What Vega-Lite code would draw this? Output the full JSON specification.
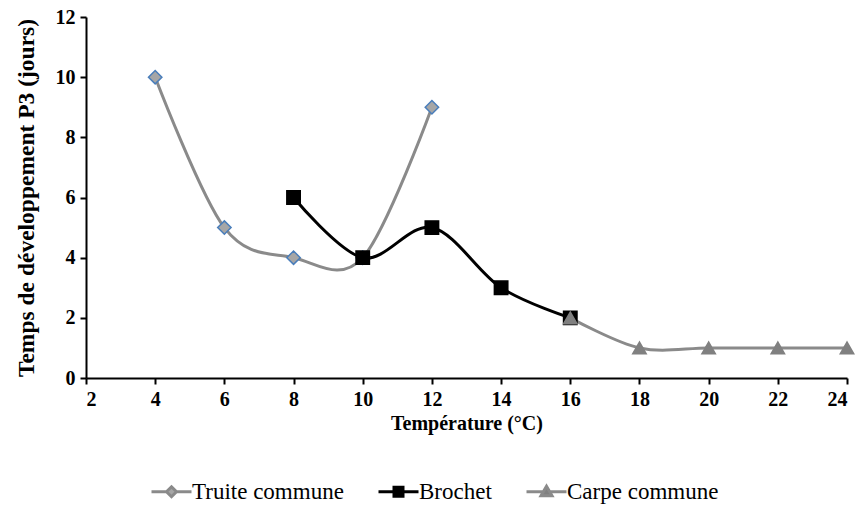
{
  "$schema": "https://vega.github.io/schema/vega-lite/v6.json",
  "width": 761,
  "height": 361,
  "autosize": {"type": "none"},
  "padding": {"left": 86, "top": 17, "right": 14, "bottom": 128},
  "background": "white",
  "config": {
    "view": {"stroke": null},
    "font": "Liberation Serif",
    "axis": {
      "grid": false,
      "domainColor": "#000000",
      "domainWidth": 2,
      "tickColor": "#000000",
      "tickWidth": 2,
      "tickSize": 6,
      "labelFont": "Liberation Serif",
      "labelFontSize": 20,
      "labelFontWeight": "bold",
      "labelColor": "#000000",
      "titleFont": "Liberation Serif",
      "titleFontWeight": "bold",
      "titleColor": "#000000"
    }
  },
  "data": {
    "values": [
      {"series": "Truite commune", "temp": 4, "jours": 10},
      {"series": "Truite commune", "temp": 6, "jours": 5},
      {"series": "Truite commune", "temp": 8, "jours": 4},
      {"series": "Truite commune", "temp": 10, "jours": 4},
      {"series": "Truite commune", "temp": 12, "jours": 9},
      {"series": "Brochet", "temp": 8, "jours": 6},
      {"series": "Brochet", "temp": 10, "jours": 4},
      {"series": "Brochet", "temp": 12, "jours": 5},
      {"series": "Brochet", "temp": 14, "jours": 3},
      {"series": "Brochet", "temp": 16, "jours": 2},
      {"series": "Carpe commune", "temp": 16, "jours": 2},
      {"series": "Carpe commune", "temp": 18, "jours": 1},
      {"series": "Carpe commune", "temp": 20, "jours": 1},
      {"series": "Carpe commune", "temp": 22, "jours": 1},
      {"series": "Carpe commune", "temp": 24, "jours": 1}
    ]
  },
  "encoding": {
    "x": {
      "field": "temp",
      "type": "quantitative",
      "scale": {"domain": [2, 24], "nice": false, "zero": false},
      "axis": {"values": [2, 4, 6, 8, 10, 12, 14, 16, 18, 20, 22, 24], "title": "Température (°C)", "titleFontSize": 20, "titlePadding": 4, "labelPadding": 5}
    },
    "y": {
      "field": "jours",
      "type": "quantitative",
      "scale": {"domain": [0, 12], "nice": false},
      "axis": {"values": [0, 2, 4, 6, 8, 10, 12], "title": "Temps de développement P3 (jours)", "titleFontSize": 23.5, "titlePadding": 17, "labelPadding": 5}
    }
  },
  "resolve": {
    "scale": {"color": "independent", "shape": "independent", "fill": "independent", "stroke": "independent"},
    "legend": {"color": "independent", "shape": "independent", "fill": "independent", "stroke": "independent"}
  },
  "layer": [
    {
      "mark": {"type": "line", "interpolate": "cardinal", "strokeWidth": 3},
      "encoding": {
        "color": {
          "field": "series",
          "type": "nominal",
          "scale": {"domain": ["Truite commune", "Brochet", "Carpe commune"], "range": ["#8a8a8a", "#000000", "#8a8a8a"]},
          "legend": null
        },
        "detail": {"field": "series"}
      }
    },
    {
      "mark": {"type": "point", "filled": true, "strokeWidth": 1.5, "opacity": 1, "size": 180},
      "encoding": {
        "shape": {
          "field": "series",
          "type": "nominal",
          "scale": {"domain": ["Truite commune", "Brochet", "Carpe commune"], "range": ["diamond", "square", "triangle-up"]},
          "legend": null
        },
        "fill": {
          "field": "series",
          "type": "nominal",
          "scale": {"domain": ["Truite commune", "Brochet", "Carpe commune"], "range": ["#a6a6a6", "#000000", "#808080"]},
          "legend": null
        },
        "stroke": {
          "field": "series",
          "type": "nominal",
          "scale": {"domain": ["Truite commune", "Brochet", "Carpe commune"], "range": ["#4a7ebb", "#000000", "#808080"]},
          "legend": null
        }
      }
    },
    {
      "mark": {"type": "point", "filled": true, "strokeWidth": 3, "opacity": 0, "size": 100},
      "encoding": {
        "shape": {
          "field": "series",
          "type": "nominal",
          "scale": {"domain": ["Truite commune", "Brochet", "Carpe commune"], "range": ["M-4,0H-1M1,0H4M0,-1L1,0L0,1L-1,0Z", "M-4,0H-0.9M0.9,0H4M-0.9,-0.9H0.9V0.9H-0.9Z", "M-4,0H-0.7M0.7,0H4M0,-1.1L1.1,0.8H-1.1Z"]},
          "legend": {
            "title": null,
            "orient": "none",
            "direction": "horizontal",
            "legendX": 74,
            "legendY": 463,
            "symbolSize": 100,
            "symbolStrokeWidth": 3,
            "symbolOpacity": 1,
            "labelOffset": 9,
            "columnPadding": 28,
            "labelFont": "Liberation Serif",
            "labelFontSize": 23,
            "labelColor": "#000000"
          }
        },
        "fill": {
          "field": "series",
          "type": "nominal",
          "scale": {"domain": ["Truite commune", "Brochet", "Carpe commune"], "range": ["#a6a6a6", "#000000", "#808080"]}
        },
        "stroke": {
          "field": "series",
          "type": "nominal",
          "scale": {"domain": ["Truite commune", "Brochet", "Carpe commune"], "range": ["#8a8a8a", "#000000", "#8a8a8a"]}
        }
      }
    }
  ]
}
